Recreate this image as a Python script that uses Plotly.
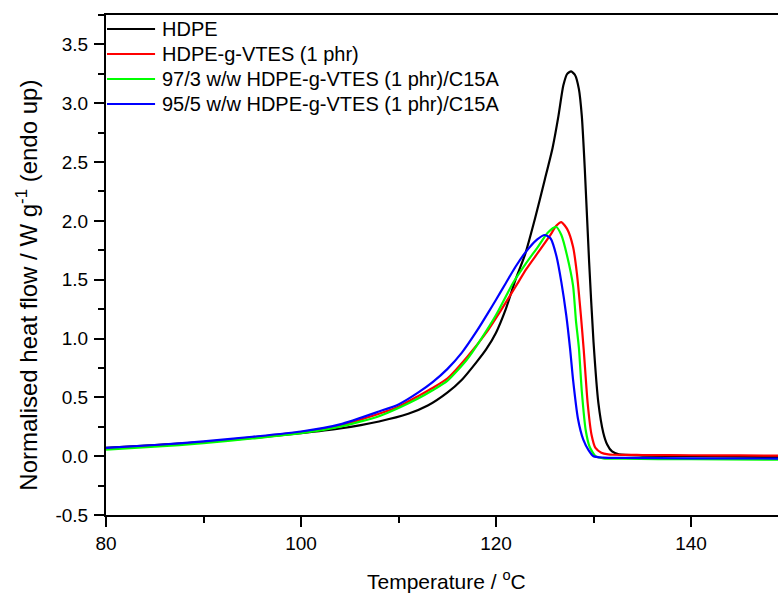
import plotly.graph_objects as go

# DSC melting endotherms, normalised heat flow vs temperature
hdpe_T = [80, 85, 90, 95, 100, 104, 108, 111, 113, 115, 116.5, 118, 119, 120, 121, 122, 123, 124, 125,
          125.8, 126.4, 126.9, 127.3, 127.7, 128.1, 128.5, 128.8, 129.1, 129.55, 130.0, 130.5, 131.0,
          131.4, 131.9, 132.6, 135, 140, 145, 149]
hdpe_q = [0.07, 0.095, 0.12, 0.155, 0.195, 0.235, 0.295, 0.36, 0.43, 0.54, 0.65, 0.80, 0.91, 1.05, 1.25,
          1.50, 1.72, 2.02, 2.35, 2.62, 2.89, 3.15, 3.25, 3.27, 3.24, 3.12, 2.89, 2.45, 1.65, 0.97,
          0.45, 0.2, 0.1, 0.04, 0.015, 0.005, 0.0, -0.005, -0.008]

vtes_T = [80, 85, 90, 95, 100, 104, 108, 110, 112, 113.5, 115, 117, 119, 120.5, 122, 123.1, 124.3, 125.5,
          126.2, 126.7, 127.3, 127.9, 128.3, 128.7, 129.0, 129.4, 129.8, 130.2, 130.8, 131.5, 132, 135,
          140, 145, 149]
vtes_q = [0.065, 0.09, 0.12, 0.16, 0.205, 0.26, 0.36, 0.42, 0.51, 0.58, 0.66, 0.84, 1.05, 1.24, 1.44,
          1.59, 1.73, 1.87, 1.96, 1.99, 1.93, 1.78, 1.55, 1.2, 0.9, 0.45, 0.18, 0.07, 0.03, 0.015, 0.012,
          0.01, 0.008, 0.006, 0.005]

c3_T = [80, 85, 90, 95, 100, 104, 108, 110, 112, 113.5, 115, 117, 118.5, 120, 121.8, 123, 124.3, 125.3,
        126.15, 126.7, 127.3, 127.9, 128.2, 128.5, 128.8, 129.2, 129.6, 130.2, 131, 133, 140, 149]
c3_q = [0.055, 0.08, 0.11, 0.15, 0.195, 0.25, 0.34, 0.41, 0.49, 0.56, 0.64, 0.82, 1.0, 1.2, 1.48, 1.63,
        1.78, 1.9, 1.95, 1.88, 1.7, 1.45, 1.15, 0.92, 0.55, 0.22, 0.08, 0.0, -0.018, -0.022, -0.026,
        -0.03]

c5_T = [80, 85, 90, 95, 100, 104, 108, 110, 112, 113.5, 115, 116.5, 118, 119.2, 120, 121, 122, 123,
        124.2, 125.0, 125.6, 126.2, 126.7, 127.2, 127.6, 127.9, 128.4, 128.95, 129.5, 130, 131, 133,
        140, 149]
c5_q = [0.07, 0.095, 0.125, 0.165, 0.21, 0.27, 0.38, 0.44, 0.54, 0.63, 0.74, 0.88, 1.06, 1.22, 1.33,
        1.47, 1.61, 1.73, 1.84, 1.88, 1.85, 1.7, 1.48, 1.2, 0.91, 0.65, 0.32, 0.14, 0.05, 0.0, -0.012,
        -0.015, -0.018, -0.02]

names = ["HDPE", "HDPE-g-VTES (1 phr)", "97/3 w/w HDPE-g-VTES (1 phr)/C15A",
         "95/5 w/w HDPE-g-VTES (1 phr)/C15A"]
colors = ["#000000", "#FF0000", "#00FF00", "#0000FF"]
temps = [hdpe_T, vtes_T, c3_T, c5_T]
flows = [hdpe_q, vtes_q, c3_q, c5_q]

y_ticks = [-0.5, 0, 0.5, 1, 1.5, 2, 2.5, 3, 3.5]
y_ticktext = ["-0.5", "0.0", "0.5", "1.0", "1.5", "2.0", "2.5", "3.0", "3.5"]
x_ticks = [80, 100, 120, 140]

FONT = "Liberation Sans, Arial, sans-serif"

fig = go.Figure()
for name, t, q, col in zip(names, temps, flows, colors):
    fig.add_trace(go.Scatter(
        x=t, y=q, mode="lines", name=name, showlegend=False,
        line=dict(color=col, width=2.2, shape="spline", smoothing=0.6),
    ))

# key in the upper-left corner: a short line sample and label per series
row_top, row_step = 0.972, 0.05
for i, (name, col) in enumerate(zip(names, colors)):
    yy = row_top - i * row_step
    fig.add_shape(type="line", xref="paper", yref="paper",
                  x0=0.0015, x1=0.073, y0=yy, y1=yy,
                  line=dict(color=col, width=2.2))
    fig.add_annotation(xref="paper", yref="paper", x=0.0805, y=yy,
                       xanchor="left", yanchor="middle", showarrow=False,
                       text=name, font=dict(family=FONT, size=20, color="black"))

axis_common = dict(
    showgrid=False, zeroline=False,
    showline=True, linecolor="black", linewidth=2,
    ticks="outside", ticklen=10, tickwidth=2, tickcolor="black",
    tickfont=dict(family=FONT, size=19, color="black"),
)

fig.update_xaxes(
    **axis_common,
    range=[80, 148.92], tickvals=x_ticks, mirror=True,
    minor=dict(dtick=10, tick0=80, ticks="outside", ticklen=6, tickwidth=2, tickcolor="black"),
)
fig.update_yaxes(
    **axis_common,
    range=[-0.5, 3.75], tickvals=y_ticks, ticktext=y_ticktext, ticklabelstandoff=2,
    minor=dict(dtick=0.25, tick0=0, ticks="outside", ticklen=6, tickwidth=2, tickcolor="black"),
)

# axis titles
fig.add_annotation(xref="paper", yref="paper", x=0.507, y=-0.13,
                   xanchor="center", yanchor="middle", showarrow=False,
                   text="Temperature / <sup>o</sup>C",
                   font=dict(family=FONT, size=21, color="black"))
fig.add_annotation(xref="paper", yref="paper", x=-0.118, y=0.46,
                   xanchor="center", yanchor="middle", showarrow=False, textangle=-90,
                   text="Normalised heat flow / W g<sup>-1</sup> (endo up)",
                   font=dict(family=FONT, size=24, color="black"))

fig.update_layout(
    width=778, height=596,
    margin=dict(l=106, r=0, t=15, b=81),
    paper_bgcolor="white", plot_bgcolor="white",
    font=dict(family=FONT, color="black"),
    showlegend=False,
)

fig.write_html("out.html")
